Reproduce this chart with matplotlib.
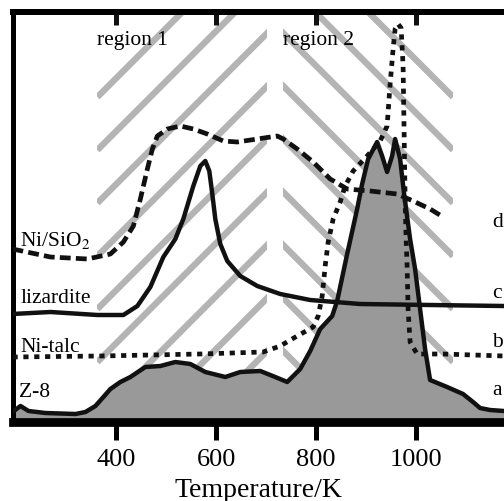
import matplotlib
matplotlib.use('Agg')
import numpy as np
import matplotlib.pyplot as plt
from matplotlib.patches import Rectangle

plt.rcParams['font.family'] = ['Liberation Serif', 'DejaVu Serif']
plt.rcParams['mathtext.fontset'] = 'stix'

# a: Z-8 (filled)
a_T = [192, 208, 224, 258, 318, 338, 358, 374, 388, 408, 428, 458, 488, 518, 548,
       578, 618, 648, 688, 718, 742, 768, 788, 808, 832, 842, 862, 882, 892, 904,
       922, 932, 942, 952, 958, 968, 976, 988, 998, 1008, 1018, 1028, 1062, 1094,
       1114, 1128, 1148, 1176]
a_y = [2.25, 3.75, 2.5, 2.0, 1.75, 2.25, 3.75, 6.0, 8.0, 9.75, 11.0, 13.5, 13.75, 14.75, 14.25,
       12.25, 11.0, 12.25, 12.5, 11.0, 9.75, 13.0, 17.5, 23.0, 26.25, 30.0, 41.75, 53.0, 59.25, 65.5,
       69.75, 66.25, 62.25, 66.25, 70.5, 65.5, 56.75, 45.5, 38.0, 28.0, 18.0, 10.25, 8.5, 6.75,
       4.75, 3.25, 2.75, 2.5]

# b: Ni-talc (dotted)
b_T = [192, 368, 568, 694, 728, 762, 794, 804, 812, 818, 824, 834, 848, 858, 874, 902,
       928, 942, 948, 954, 958, 964, 970, 974, 976, 978, 980, 982, 984, 988, 1002, 1054, 1176]
b_y = [16.0, 16.25, 16.75, 17.25, 18.75, 21.25, 23.5, 26.25, 31.25, 38.75, 44.75, 50.5, 54.75,
       58.75, 62.5, 66.25, 70.0, 73.75, 84.25, 93.0, 98.0, 99.25, 98.25, 88.75, 72.25, 55.5,
       45.5, 38.75, 28.0, 19.75, 16.75, 16.75, 16.25]

# c: lizardite (solid)
c_T = [192, 268, 362, 414, 442, 468, 494, 518, 534, 554, 568, 578, 586, 592, 598, 608,
       622, 648, 682, 728, 788, 888, 1028, 1176]
c_y = [26.75, 27.25, 26.5, 26.5, 28.75, 33.5, 41.0, 45.5, 50.5, 58.75, 63.75, 65.0, 62.5,
       56.75, 50.5, 44.25, 40.0, 36.25, 33.75, 31.75, 30.25, 29.25, 29.0, 28.75]

# d: Ni/SiO2 (dashed)
d_T = [192, 268, 342, 388, 414, 434, 448, 462, 472, 482, 502, 528, 554, 582, 614, 642,
       682, 722, 734, 762, 794, 828, 862, 908, 962, 994, 1028, 1054]
d_y = [43.0, 41.0, 40.5, 41.75, 44.75, 48.75, 55.5, 63.0, 68.0, 71.25, 73.0, 73.75, 73.0,
       71.75, 70.0, 69.75, 70.5, 71.25, 70.5, 68.0, 64.75, 60.5, 58.0, 57.5, 56.75, 55.0,
       53.0, 51.0]

regions = [(362, 702), (734, 1074)]
region_names = ['region 1', 'region 2']
xticks = [400, 600, 800, 1000]

fig = plt.figure(figsize=(5.04, 5.02), dpi=100)
ax = fig.add_axes([12.5 / 504, 79.5 / 502, 491.5 / 504, 409.5 / 502])
ax.set_xlim(192, 1176)
ax.set_ylim(-0.125, 102.25)

# hatched regions (chevron stripes)
ylo, yhi = 11.75, 102.25
xc = (regions[0][1] + regions[1][0]) / 2
xs = np.linspace(regions[0][0], regions[1][1], 200)
for (x0, x1) in regions:
    clip = Rectangle((x0, ylo), x1 - x0, yhi - ylo, transform=ax.transData)
    for k in range(-2, 12):
        ys = 99 - 13.25 * k - 0.125 * np.abs(xs - xc)
        ln, = ax.plot(xs, ys, color='#b4b4b4', lw=4.6, solid_capstyle='butt', zorder=1)
        ln.set_clip_path(clip)
for (x0, x1), name in zip(regions, region_names):
    ax.text(x0, 94.25, name, fontsize=15.5, ha='left', va='baseline', zorder=6)

ax.fill_between(a_T, 0, a_y, color='#999999', lw=0, zorder=2)
ax.plot(a_T, a_y, color='#111111', lw=3.2, zorder=4)
ax.plot(b_T, b_y, color='#111111', lw=3.4, ls=(0, (1.1, 1.2)), dash_capstyle='butt', zorder=4)
ax.plot(c_T, c_y, color='#111111', lw=3.2, zorder=4)
ax.plot(d_T, d_y, color='#111111', lw=3.4, ls=(0, (2.3, 1.1)), dash_capstyle='butt', zorder=4)

# curve labels
ax.text(208, 44, 'Ni/SiO$_2$', fontsize=15.5, va='baseline')
ax.text(208, 29.75, 'lizardite', fontsize=15.5, va='baseline')
ax.text(208, 17.5, 'Ni-talc', fontsize=15.5, va='baseline')
ax.text(206, 6.25, 'Z-8', fontsize=15.5, va='baseline')
for lab, yy in zip(['d', 'c', 'b', 'a'], [48.75, 31, 18.75, 6.75]):
    ax.text(1153, yy, lab, fontsize=15.5, va='baseline')

# axes styling
ax.spines['right'].set_visible(False)
ax.spines['top'].set_linewidth(4.3)
ax.spines['left'].set_linewidth(3.6)
ax.spines['bottom'].set_linewidth(6.3)
ax.set_yticks([])
ax.set_xticks(xticks)
ax.tick_params(axis='x', direction='out', length=13, width=3.6,
               labelsize=19, pad=6, top=False)
ax.set_xlabel('Temperature/K', fontsize=20, labelpad=5)

# inward ticks on the top edge
ax2 = ax.twiny()
ax2.set_xlim(ax.get_xlim())
ax2.set_xticks(xticks)
ax2.tick_params(axis='x', direction='in', length=9, width=3.6, labeltop=False,
                top=True, bottom=False, color='#111111')
ax2.set_yticks([])
ax2.spines['right'].set_visible(False)
ax2.spines['left'].set_visible(False)
ax2.spines['bottom'].set_visible(False)
ax2.spines['top'].set_linewidth(4.3)

plt.savefig('out.png', dpi=100)
